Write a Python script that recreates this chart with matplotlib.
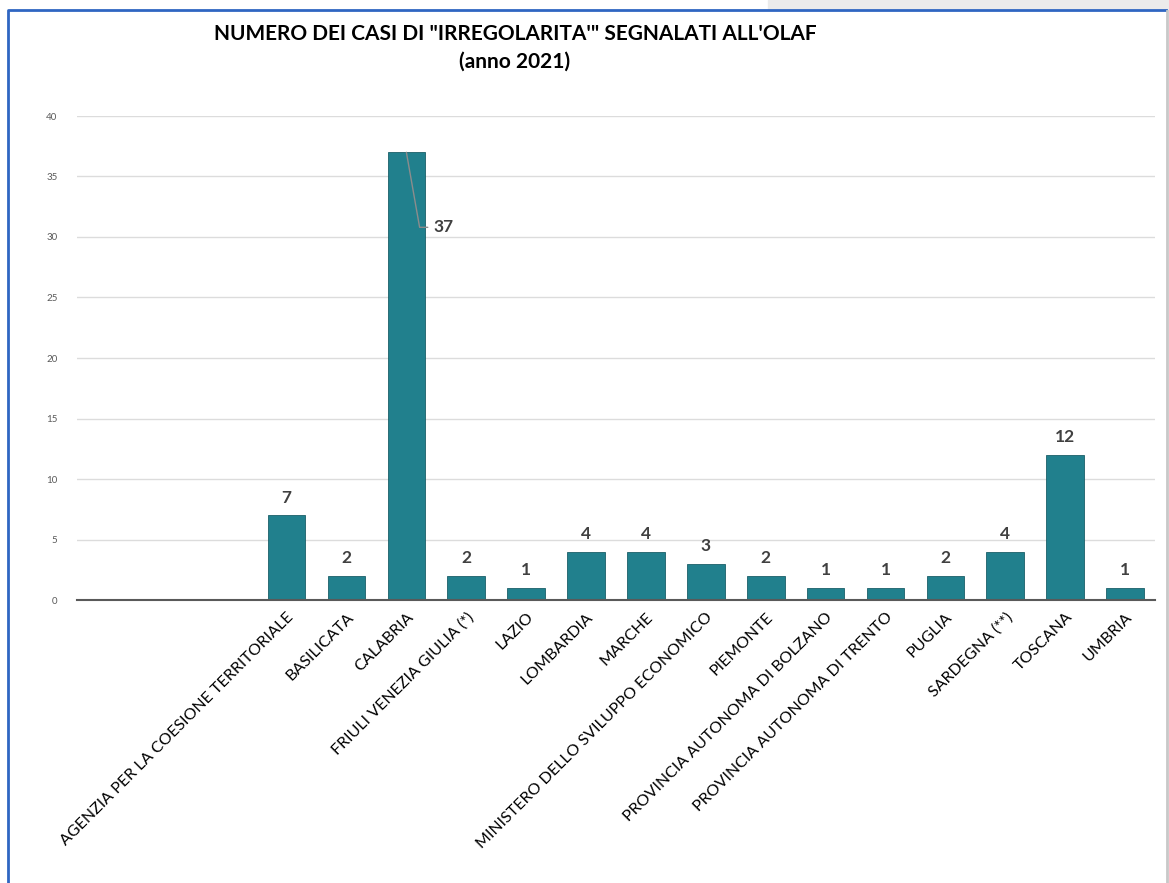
import numpy as np
import matplotlib
matplotlib.use('Agg')
import matplotlib.pyplot as plt
from matplotlib.patches import Rectangle
from matplotlib.lines import Line2D

plt.rcParams['font.family'] = ['Lato', 'DejaVu Sans']

categories = ['AGENZIA PER LA COESIONE TERRITORIALE', 'BASILICATA', 'CALABRIA',
              'FRIULI VENEZIA GIULIA (*)', 'LAZIO', 'LOMBARDIA', 'MARCHE',
              'MINISTERO DELLO SVILUPPO ECONOMICO', 'PIEMONTE',
              'PROVINCIA AUTONOMA DI BOLZANO', 'PROVINCIA AUTONOMA DI TRENTO',
              'PUGLIA', 'SARDEGNA (**)', 'TOSCANA', 'UMBRIA']
values = [7, 2, 37, 2, 1, 4, 4, 3, 2, 1, 1, 2, 4, 12, 1]
n_empty = 3  # empty category slots at the left of the chart

fig = plt.figure(figsize=(11.69, 8.83), dpi=100)

# gray band top-right + blue frame
fig.patches.append(Rectangle((768 / 1169, 1 - 10 / 883), 1, 10 / 883,
                             transform=fig.transFigure, color='#ebebeb', zorder=0))
fig.lines.append(Line2D([8 / 1169, 8 / 1169, 1166 / 1169], [0, 1 - 10 / 883, 1 - 10 / 883],
                        transform=fig.transFigure, color='#2f66c2', lw=2))
fig.lines.append(Line2D([1167 / 1169, 1167 / 1169], [0, 1 - 11 / 883],
                        transform=fig.transFigure, color='#c8c8c8', lw=2))

ax = fig.add_axes([77 / 1169, 1 - 600 / 883, (1155 - 77) / 1169, (600 - 116) / 883])
x = np.arange(len(categories))
bars = ax.bar(x, values, width=0.63, color='#21808d', edgecolor='#1a5f68', lw=0.6, zorder=3)

ax.set_xlim(-n_empty - 0.5, len(categories) - 0.5)
ax.set_ylim(0, 40)
ax.set_yticks(range(0, 41, 5))
ax.tick_params(axis='y', labelsize=7, colors='#595959', length=0, pad=14)
ax.set_xticks(x)
ax.set_xticklabels(categories, rotation=45, ha='right', rotation_mode='anchor', fontsize=11.5)
ax.tick_params(axis='x', length=0, pad=7)
ax.grid(axis='y', color='#dcdcdc', lw=1, zorder=0)
for s in ['top', 'right', 'left']:
    ax.spines[s].set_visible(False)
ax.spines['bottom'].set_color('#595959')
ax.spines['bottom'].set_linewidth(1.5)
ax.spines['bottom'].set_zorder(4)

for xi, v in zip(x, values):
    if v == max(values):
        ax.annotate(str(v), xy=(xi, v), xytext=(xi + 0.45, v - 6.2),
                    fontsize=12.5, fontweight='bold', color='#404040', va='center', ha='left',
                    arrowprops=dict(arrowstyle='-', color='#8c8c8c', lw=1,
                                    connectionstyle='angle,angleA=0,angleB=100,rad=0',
                                    shrinkA=2, shrinkB=0))
    else:
        ax.text(xi, v + 0.8, str(v), ha='center', va='bottom', fontsize=12.5,
                fontweight='bold', color='#404040')

fig.text(515 / 1169, 1 - 48 / 883, 'NUMERO DEI CASI DI "IRREGOLARITA\'" SEGNALATI ALL\'OLAF\n(anno 2021)',
         ha='center', va='center', fontsize=15, fontweight='bold', linespacing=1.5)

fig.savefig('out.png', dpi=100)
